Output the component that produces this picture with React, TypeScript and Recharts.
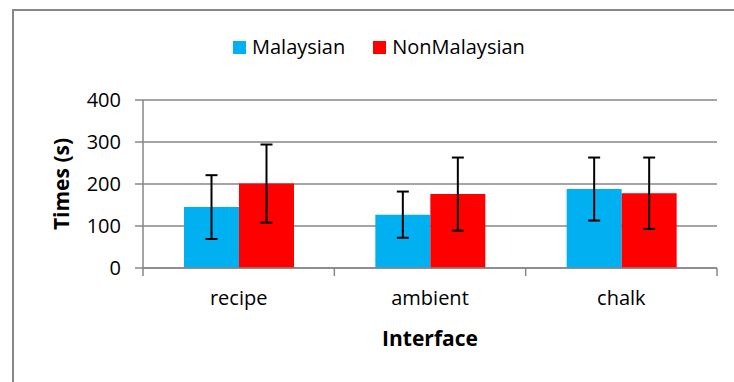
import { BarChart, Bar, XAxis, YAxis, CartesianGrid, ErrorBar, Legend } from 'recharts';

const interfaces = ['recipe', 'ambient', 'chalk'];
const malaysian = [145, 127, 188];
const malaysianErr = [76, 55, 75];
const nonMalaysian = [201, 176, 178];
const nonMalaysianErr = [93, 87, 85];
const yTicks = [0, 100, 200, 300, 400];

const FONT = '"Open Sans", sans-serif';
const GRID = '#878787';
const BLUE = '#00B0F0';
const RED = '#FF0000';

const chartData = interfaces.map((name, i) => ({
  name,
  malaysian: malaysian[i],
  malaysianErr: malaysianErr[i],
  nonMalaysian: nonMalaysian[i],
  nonMalaysianErr: nonMalaysianErr[i],
}));

const legendItems = [
  { label: 'Malaysian', color: BLUE },
  { label: 'NonMalaysian', color: RED },
];

const TICK_GAP = 23; // tickSize + tickMargin of the category axis

function ChartLegend() {
  return (
    <div style={{ display: 'flex', alignItems: 'center', fontFamily: FONT, fontSize: 20, lineHeight: '26px', color: '#000' }}>
      {legendItems.map((item, i) => (
        <div key={item.label} style={{ display: 'flex', alignItems: 'center', marginLeft: i === 0 ? 0 : 28 }}>
          <span style={{ width: 13, height: 13, background: item.color, display: 'inline-block', marginRight: 6 }} />
          <span>{item.label}</span>
        </div>
      ))}
    </div>
  );
}

// category label plus tick marks on the category boundaries (Excel style)
function CategoryTick(props: any) {
  const { x, y, payload, index, visibleTicksCount } = props;
  const half = payload.offset || 0;
  const axisY = y - TICK_GAP;
  return (
    <g>
      <line x1={x - half} x2={x - half} y1={axisY} y2={axisY + 8} stroke={GRID} strokeWidth={1.5} />
      {index === visibleTicksCount - 1 && (
        <line x1={x + half} x2={x + half} y1={axisY} y2={axisY + 8} stroke={GRID} strokeWidth={1.5} />
      )}
      <text x={x} y={y} dy="0.71em" textAnchor="middle" fontFamily={FONT} fontSize={20} fill="#000">
        {payload.value}
      </text>
    </g>
  );
}

export default function App() {
  return (
    <div style={{ position: 'fixed', left: 0, top: 0, width: 734, height: 382, overflow: 'hidden', background: '#fff' }}>
      {/* outer chart frame, cropped on the right and bottom */}
      <div
        style={{
          position: 'absolute',
          left: 12,
          top: 9,
          width: 900,
          height: 600,
          borderLeft: `2px solid ${GRID}`,
          borderTop: `2px solid ${GRID}`,
          boxSizing: 'border-box',
        }}
      />
      <div style={{ position: 'absolute', left: 8, top: 8 }}>
        <BarChart
          width={718}
          height={366}
          data={chartData}
          margin={{ top: 66, right: 9, bottom: 26, left: 0 }}
          barCategoryGap={41}
          barGap={0}
          accessibilityLayer={false}
          style={{ outline: 'none' }}
        >
          <CartesianGrid vertical={false} stroke={GRID} strokeWidth={1.5} />
          <XAxis
            dataKey="name"
            height={80}
            tickLine={false}
            axisLine={{ stroke: GRID, strokeWidth: 1.5 }}
            tickSize={6}
            tickMargin={17}
            tick={<CategoryTick />}
            label={{
              position: 'bottom',
              content: (props: any) => {
                const vb = props.viewBox;
                return (
                  <text
                    x={vb.x + vb.width / 2}
                    y={338}
                    textAnchor="middle"
                    fontFamily={FONT}
                    fontSize={21}
                    fontWeight="bold"
                    fill="#000"
                  >
                    Interface
                  </text>
                );
              },
            }}
          />
          <YAxis
            width={135}
            domain={[0, 400]}
            ticks={yTicks}
            interval={0}
            axisLine={{ stroke: GRID, strokeWidth: 1.5 }}
            tickLine={{ stroke: GRID, strokeWidth: 1.5 }}
            tickSize={8}
            tickMargin={14}
            tick={{ fontFamily: FONT, fontSize: 20, fill: '#000' }}
            label={{
              position: 'center',
              content: (props: any) => {
                const vb = props.viewBox;
                const cy = vb.y + vb.height / 2;
                return (
                  <text
                    x={61}
                    y={cy}
                    transform={`rotate(-90, 61, ${cy})`}
                    textAnchor="middle"
                    fontFamily={FONT}
                    fontSize={21}
                    fontWeight="bold"
                    fill="#000"
                  >
                    Times (s)
                  </text>
                );
              },
            }}
          />
          <Legend
            layout="vertical"
            align="center"
            verticalAlign="top"
            wrapperStyle={{ top: 26, left: 225, width: 400 }}
            content={() => <ChartLegend />}
          />
          <Bar dataKey="malaysian" name="Malaysian" fill={BLUE} isAnimationActive={false}>
            <ErrorBar dataKey="malaysianErr" width={6} strokeWidth={2} stroke="#000" direction="y" isAnimationActive={false} />
          </Bar>
          <Bar dataKey="nonMalaysian" name="NonMalaysian" fill={RED} isAnimationActive={false}>
            <ErrorBar dataKey="nonMalaysianErr" width={6} strokeWidth={2} stroke="#000" direction="y" isAnimationActive={false} />
          </Bar>
        </BarChart>
      </div>
    </div>
  );
}
